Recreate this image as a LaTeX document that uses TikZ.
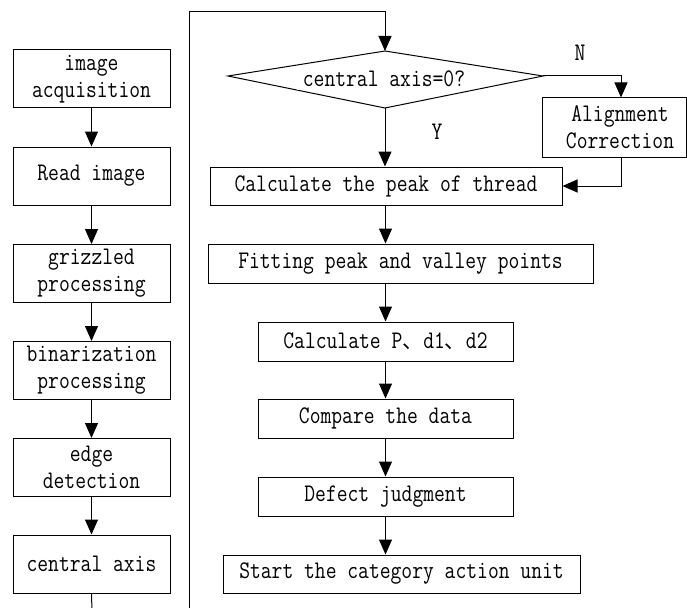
\documentclass[tikz,border=0pt]{standalone}
\usepackage{fontspec}
\newfontfamily\cjk{Noto Sans CJK SC}
\newfontfamily\boxfont[FakeStretch=0.83]{Latin Modern Mono}
\newcommand\dun{{\cjk\fontsize{21}{27}\selectfont 、}}
\usetikzlibrary{arrows.meta}
\begin{document}
\begin{tikzpicture}[x=1pt,y=-1pt,
  every node/.style={font=\fontsize{25.3}{27}\selectfont\boxfont, inner sep=0pt},
  box/.style={draw, line width=1pt, align=center},
  flow/.style={line width=1pt, -{Triangle[width=13pt,length=15pt]}},
  plain/.style={line width=1pt}]
\useasboundingbox (0,0) rectangle (687,607);

% left column: image preparation
\node[box, minimum width=157pt, minimum height=58pt] (acq)  at (91.5,79)    {image\\acquisition};
\node[box, minimum width=157pt, minimum height=58pt] (read) at (91.5,176)   {Read image};
\node[box, minimum width=157pt, minimum height=58pt] (gray) at (91.5,273.5) {grizzled\\processing};
\node[box, minimum width=157pt, minimum height=58pt] (bin)  at (91.5,370.5) {binarization\\processing};
\node[box, minimum width=157pt, minimum height=58pt] (edge) at (91.5,467.5) {edge\\detection};
\node[box, minimum width=157pt, minimum height=58pt] (axis) at (91.5,564)   {central axis};

\draw[flow] (acq)  -- (read);
\draw[flow] (read) -- (gray);
\draw[flow] (gray) -- (bin);
\draw[flow] (bin)  -- (edge);
\draw[flow] (edge) -- (axis);

% loop lines running off the bottom edge
\coordinate (axisOut) at (92,612);
\coordinate (loopB) at (189,612);
\coordinate (loopC) at (189,12);
\draw[plain] (axis.south) -- (axisOut);

% decision diamond
\coordinate (dT) at (385,51);
\coordinate (dR) at (543,76);
\coordinate (dB) at (385,108);
\coordinate (dL) at (228,76);
\draw[plain] (dT) -- (dR) -- (dB) -- (dL) -- cycle;
\node[fill=white, inner xsep=6pt, minimum height=22pt] (dtext) at (384,79) {central axis=0?};

\draw[flow] (loopB) -- (loopC) -| (dT);

% right column: measurement steps
\node[box, minimum width=144pt, minimum height=59pt] (align) at (614,127.5)
  {\hspace*{12pt}Alignment\\\hspace*{12pt}Correction};
\node[box, minimum width=352pt, minimum height=38pt] (peak)    at (386,186)   {Calculate the peak of thread};
\node[box, minimum width=385pt, minimum height=39pt] (fit)     at (400.5,263.5) {Fitting peak and valley points};
\node[box, minimum width=255pt, minimum height=39pt] (calcp)   at (385.5,341.5) {Calculate P\dun d1\dun d2};
\node[box, minimum width=255pt, minimum height=39pt] (compare) at (385.5,418.5) {Compare the data};
\node[box, minimum width=255pt, minimum height=39pt] (defect)  at (385.5,496.5) {Defect judgment};
\node[box, minimum width=357pt, minimum height=38pt] (start)   at (401.5,574)   {Start the category action unit};

\node (lblN) at (580,53) {N};
\node (lblY) at (437,132) {Y};

\coordinate (nTurn) at (621,76);
\coordinate (col) at (385.5,0);

\draw[flow] (dR) -- (nTurn) -- (nTurn |- align.north);
\draw[flow] (dB) -- (dB |- peak.north);
\draw[flow] (nTurn |- align.south) |- (peak.east);
\draw[flow] (col |- peak.south)    -- (col |- fit.north);
\draw[flow] (col |- fit.south)     -- (col |- calcp.north);
\draw[flow] (col |- calcp.south)   -- (col |- compare.north);
\draw[flow] (col |- compare.south) -- (col |- defect.north);
\draw[flow] (col |- defect.south)  -- (col |- start.north);
\end{tikzpicture}
\end{document}
